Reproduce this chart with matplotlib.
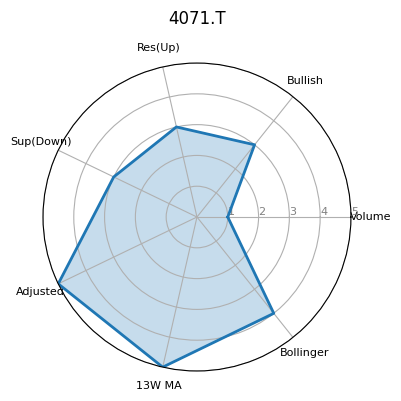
import numpy as np
import matplotlib
matplotlib.use("Agg")
import matplotlib.pyplot as plt

labels = ["Volume", "Bullish", "Res(Up)", "Sup(Down)", "Adjusted", "13W MA", "Bollinger"]
scores = [1, 3, 3, 3, 5, 5, 4]
title = "4071.T"

angles = np.linspace(0, 2 * np.pi, len(labels), endpoint=False).tolist()
vals = scores + scores[:1]
angs = angles + angles[:1]

fig = plt.figure(figsize=(4.01, 4.01), dpi=100)
ax = fig.add_axes([0.1072, 0.0748, 0.768, 0.768], polar=True)
ax.plot(angs, vals, color="#1f77b4", linewidth=2)
ax.fill(angs, vals, color="#1f77b4", alpha=0.25)
ax.set_xticks(angles)
ax.set_xticklabels(labels, fontsize=8)
ax.set_ylim(0, 5)
ax.set_yticks([1, 2, 3, 4, 5])
ax.set_yticklabels(["1", "2", "3", "4", "5"], fontsize=8, color="grey")
ax.set_rlabel_position(0)
ax.set_title(title, y=1.1)
plt.savefig("out.png", dpi=100)
